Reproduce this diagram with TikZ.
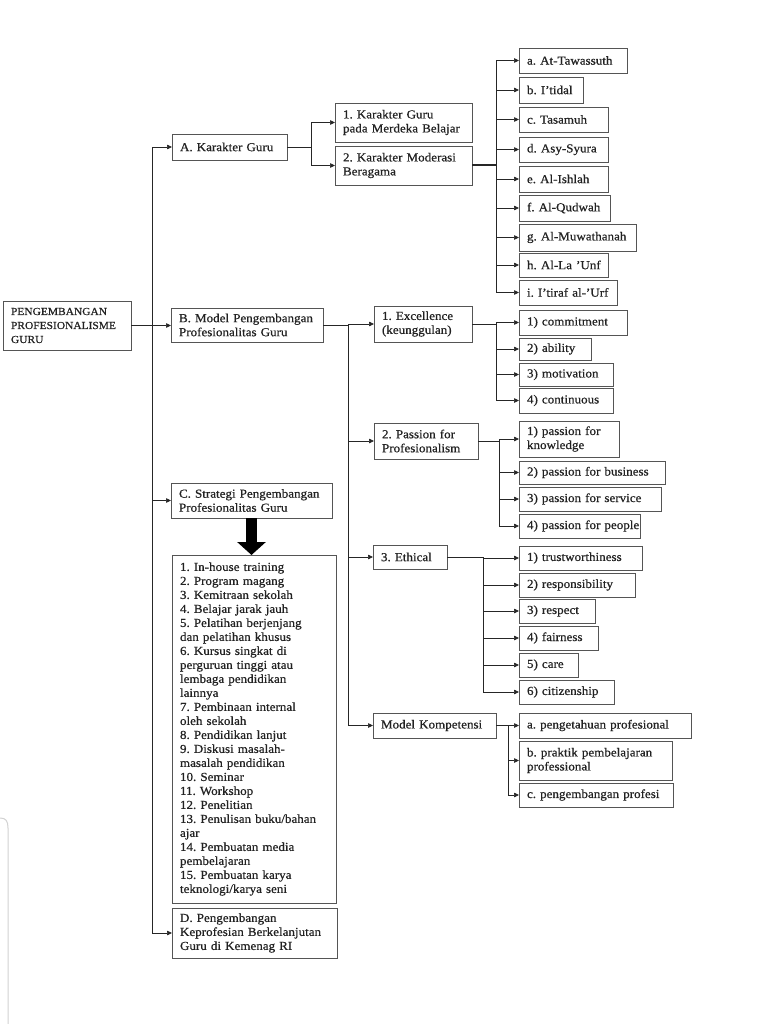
\documentclass[tikz,border=0pt]{standalone}
\usepackage{fontspec}
\setmainfont{Liberation Serif}[FakeStretch=1.07,FakeBold=0.6]
\usetikzlibrary{arrows.meta,calc}
\frenchspacing
\definecolor{txt}{HTML}{222222}
\definecolor{bord}{HTML}{555555}
\definecolor{ln}{HTML}{262626}
\newcommand\Li[1]{\mbox{#1}}
\newcommand\bx[6]{%
  \pgfmathsetmacro\mybw{#4-#2}\pgfmathsetmacro\mybh{#5-#3}\pgfmathsetmacro\mytw{#4-#2-16}%
  \node[box,anchor=north west,minimum width=\mybw pt,minimum height=\mybh pt,text width=\mytw pt] (#1) at (#2,#3) {#6};}
\begin{document}
\begin{tikzpicture}[x=1pt,y=-1pt,
  box/.style={draw=bord,line width=0.9pt,rectangle,inner xsep=8pt,inner ysep=0pt,outer sep=0pt,align=left,text=txt,font=\frenchspacing\fontsize{12.2}{14}\selectfont},
  arr/.style={draw=ln,line width=0.7pt,-{Triangle[length=5pt,width=4.5pt]}},
  lnk/.style={draw=ln,line width=0.7pt}]
\fill[white] (0,0) rectangle (768,1024);
\useasboundingbox (0,0) rectangle (768,1024);
% screenshot edge artifact
\draw[gray!35,line width=1pt] (0,818) .. controls (6,818) and (8,821) .. (8,828) -- (8,1024);
% level 0
\bx{P}{3}{301}{131}{350}{\fontsize{10.7}{14}\selectfont\Li{PENGEMBANGAN}\\\Li{PROFESIONALISME}\\\Li{GURU}}
% level 1
\bx{A}{172}{134}{287}{160}{\Li{A. Karakter Guru}}
\bx{B}{171}{308}{323}{342}{\Li{B. Model Pengembangan}\\\Li{Profesionalitas Guru}}
\bx{C}{171}{483}{332}{518}{\Li{C. Strategi Pengembangan}\\\Li{Profesionalitas Guru}}
\bx{L}{172}{555}{336}{903}{\Li{1. In-house training}\\\Li{2. Program magang}\\\Li{3. Kemitraan sekolah}\\\Li{4. Belajar jarak jauh}\\\Li{5. Pelatihan berjenjang}\\\Li{dan pelatihan khusus}\\\Li{6. Kursus singkat di}\\\Li{perguruan tinggi atau}\\\Li{lembaga pendidikan}\\\Li{lainnya}\\\Li{7. Pembinaan internal}\\\Li{oleh sekolah}\\\Li{8. Pendidikan lanjut}\\\Li{9. Diskusi masalah-}\\\Li{masalah pendidikan}\\\Li{10. Seminar}\\\Li{11. Workshop}\\\Li{12. Penelitian}\\\Li{13. Penulisan buku/bahan}\\\Li{ajar}\\\Li{14. Pembuatan media}\\\Li{pembelajaran}\\\Li{15. Pembuatan karya}\\\Li{teknologi/karya seni}}
\bx{D}{172}{908}{337}{958}{\Li{D. Pengembangan}\\\Li{Keprofesian Berkelanjutan}\\\Li{Guru di Kemenag RI}}
% level 2 under A
\bx{K1}{335}{103}{472}{142}{\Li{1. Karakter Guru}\\\Li{pada Merdeka Belajar}}
\bx{K2}{335}{146}{472}{185}{\Li{2. Karakter Moderasi}\\\Li{Beragama}}
\bx{ka}{519}{48}{627}{73}{\Li{a. At-Tawassuth}}
\bx{kb}{519}{77}{583}{103}{\Li{b. I'tidal}}
\bx{kc}{519}{107}{608}{132}{\Li{c. Tasamuh}}
\bx{kd}{519}{137}{608}{162}{\Li{d. Asy-Syura}}
\bx{ke}{519}{166}{608}{192}{\Li{e. Al-Ishlah}}
\bx{kf}{519}{195}{610}{221}{\Li{f. Al-Qudwah}}
\bx{kg}{519}{224}{636}{251}{\Li{g. Al-Muwathanah}}
\bx{kh}{519}{253}{608}{277}{\Li{h. Al-La 'Unf}}
\bx{ki}{519}{280}{617}{305}{\Li{i. I'tiraf al-'Urf}}
% level 2 under B
\bx{E}{374}{306}{472}{342}{\Li{1. Excellence}\\\Li{(keunggulan)}}
\bx{e1}{519}{310}{627}{335}{\Li{1) commitment}}
\bx{e2}{519}{338}{591}{360}{\Li{2) ability}}
\bx{e3}{519}{363}{613}{386}{\Li{3) motivation}}
\bx{e4}{519}{388}{613}{413}{\Li{4) continuous}}
\bx{Pa}{374}{423}{478}{459}{\Li{2. Passion for}\\\Li{Profesionalism}}
\bx{p1}{519}{421}{619}{457}{\Li{1) passion for}\\\Li{knowledge}}
\bx{p2}{519}{461}{665}{484}{\Li{2) passion for business}}
\bx{p3}{519}{487}{661}{511}{\Li{3) passion for service}}
\bx{p4}{519}{514}{640}{538}{\Li{4) passion for people}}
\bx{Et}{373}{545}{447}{569}{\Li{3. Ethical}}
\bx{t1}{519}{546}{642}{570}{\Li{1) trustworthiness}}
\bx{t2}{519}{573}{635}{597}{\Li{2) responsibility}}
\bx{t3}{519}{599}{595}{623}{\Li{3) respect}}
\bx{t4}{519}{626}{598}{650}{\Li{4) fairness}}
\bx{t5}{519}{653}{578}{677}{\Li{5) care}}
\bx{t6}{519}{680}{614}{704}{\Li{6) citizenship}}
\bx{MK}{373}{713}{496}{738}{\Li{Model Kompetensi}}
\bx{m1}{519}{713}{691}{738}{\Li{a. pengetahuan profesional}}
\bx{m2}{519}{741}{672}{780}{\Li{b. praktik pembelajaran}\\\Li{professional}}
\bx{m3}{519}{783}{673}{807}{\Li{c. pengembangan profesi}}
% connectors
\draw[arr] (P.east) -- (P.east -| B.west);
\coordinate (tr) at ($(P.east)+(21,0)$);
\foreach \c in {A,C,D} \draw[arr] (tr) |- (\c.west);
\coordinate (ab) at ($(A.east)+(24,0)$);
\draw[lnk] (A.east) -- (ab);
\foreach \c in {K1,K2} \draw[arr] (ab) |- (\c.west);
\coordinate (k2b) at ($(K2.east)+(24,0)$);
\draw[draw=ln,line width=2pt] (K2.east) -- (k2b);
\foreach \c in {ka,kb,kc,kd,ke,kf,kg,kh,ki} \draw[arr] (k2b) |- (\c.west);
\coordinate (bb) at ($(B.east)+(25,0)$);
\draw[lnk] (B.east) -- (bb);
\foreach \c in {E,Pa,Et,MK} \draw[arr] (bb) |- (\c.west);
\coordinate (eb) at ($(E.east)+(24,0)$);
\draw[lnk] (E.east) -- (eb);
\foreach \c in {e1,e2,e3,e4} \draw[arr] (eb) |- (\c.west);
\coordinate (pb) at ($(Pa.east)+(21,0)$);
\draw[lnk] (Pa.east) -- (pb);
\foreach \c in {p1,p2,p3,p4} \draw[arr] (pb) |- (\c.west);
\coordinate (tb) at ($(Et.east)+(36,0)$);
\draw[lnk] (Et.east) -- (tb);
\foreach \c in {t1,t2,t3,t4,t5,t6} \draw[arr] (tb) |- (\c.west);
\coordinate (mb) at ($(MK.east)+(12,0)$);
\draw[lnk] (MK.east) -- (mb);
\foreach \c in {m1,m2,m3} \draw[arr] (mb) |- (\c.west);
% big arrow C -> list
\draw[black,line width=11pt,-{Triangle[length=13pt,width=28pt]}] (C.south) -- (C.south |- L.north);
\end{tikzpicture}
\end{document}
